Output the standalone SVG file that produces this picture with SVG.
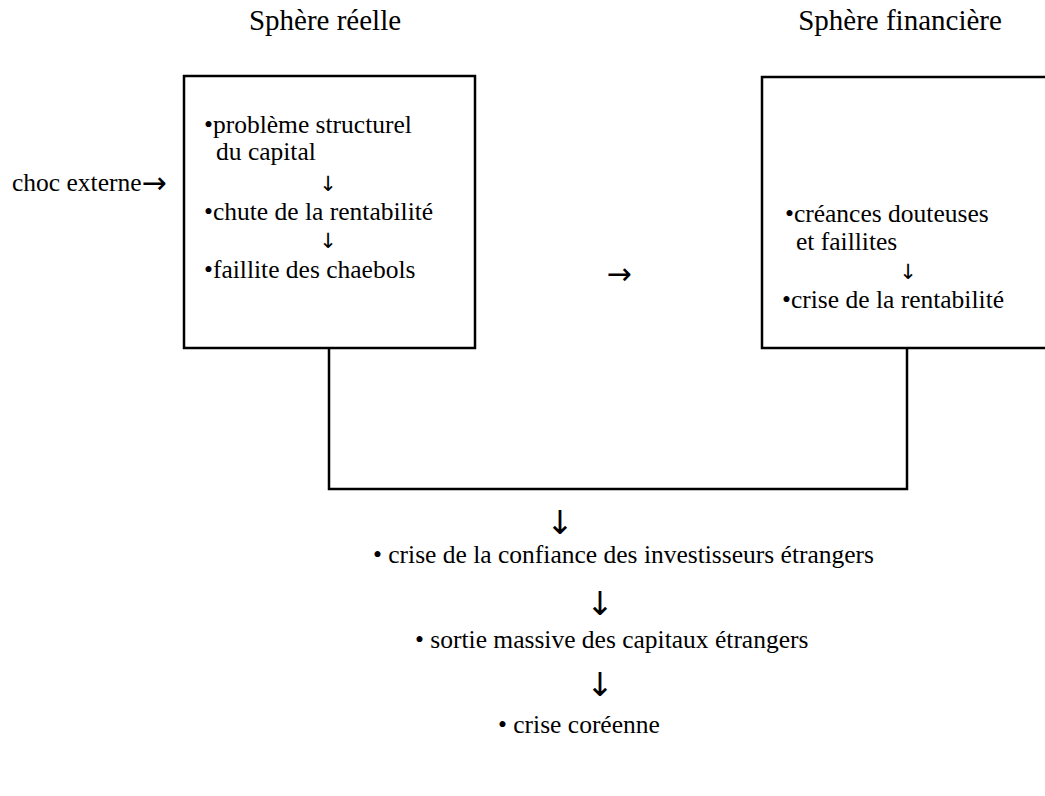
<svg xmlns="http://www.w3.org/2000/svg" width="1045" height="796" viewBox="0 0 1045 796">
<style>
text{font-family:"Liberation Serif","Times New Roman",serif;fill:#000}
.t{font-size:29px}
.b{font-size:25.5px}
.a{font-family:"DejaVu Sans",sans-serif;font-size:21px;fill:#000}
.big{font-size:30px}
.dn{font-size:33px}
.box{fill:none;stroke:#000;stroke-width:2.5}
.con{fill:none;stroke:#000;stroke-width:2.5}
</style>
<rect width="1045" height="796" fill="#fff"/>
<g id="title-reelle"><text class="t" x="325" y="30" text-anchor="middle">Sphère réelle</text></g>
<g id="title-financiere"><text class="t" x="900" y="30" text-anchor="middle">Sphère financière</text></g>
<g id="choc"><text class="b" x="12" y="191">choc externe<tspan class="a big" dy="2">→</tspan></text></g>
<g id="box-reelle">
<rect class="box" x="184" y="76" width="291" height="272"/>
<text class="b" x="204" y="133">•problème structurel</text>
<text class="b" x="216" y="160">du capital</text>
<text class="a" x="328" y="191" text-anchor="middle">↓</text>
<text class="b" x="204" y="220">•chute de la rentabilité</text>
<text class="a" x="328" y="248" text-anchor="middle">↓</text>
<text class="b" x="204" y="278">•faillite des chaebols</text>
</g>
<g id="mid-arrow"><text class="a big" x="619" y="284" text-anchor="middle">→</text></g>
<g id="box-financiere">
<rect class="box" x="762" y="77" width="300" height="271"/>
<text class="b" x="785" y="222">•créances douteuses</text>
<text class="b" x="796" y="250">et faillites</text>
<text class="a" x="908" y="279" text-anchor="middle">↓</text>
<text class="b" x="782" y="308">•crise de la rentabilité</text>
</g>
<g id="connectors">
<polyline class="con" points="329,348 329,489 907,489 907,348"/>
</g>
<g id="confiance">
<text class="a dn" x="560" y="534" text-anchor="middle">↓</text>
<text class="b" x="373" y="563">• crise de la confiance des investisseurs étrangers</text>
</g>
<g id="sortie">
<text class="a dn" x="600" y="615" text-anchor="middle">↓</text>
<text class="b" x="415" y="648">• sortie massive des capitaux étrangers</text>
</g>
<g id="coreenne">
<text class="a dn" x="600" y="696" text-anchor="middle">↓</text>
<text class="b" x="498" y="733">• crise coréenne</text>
</g>
</svg>
